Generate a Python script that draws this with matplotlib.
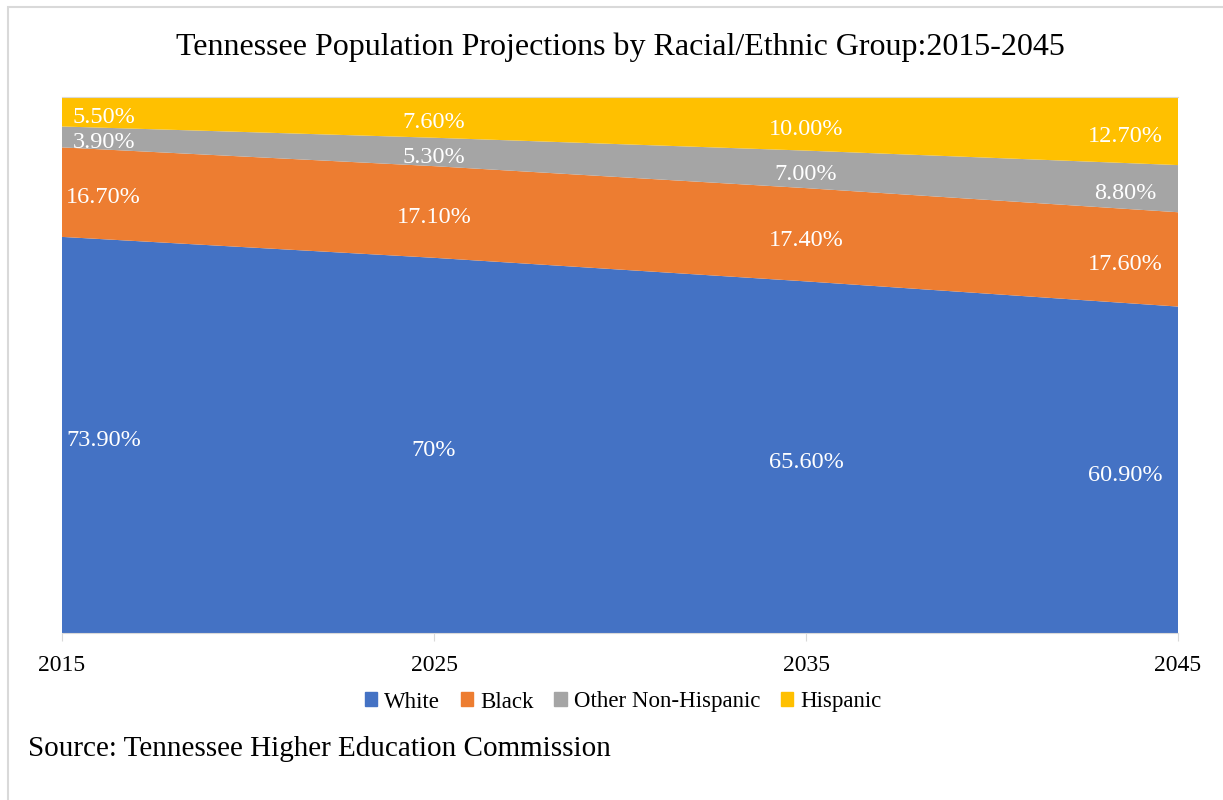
import matplotlib.pyplot as plt
from matplotlib.patches import Rectangle, Patch

plt.rcParams['font.family'] = ['Liberation Serif', 'DejaVu Serif']

years = [2015, 2025, 2035, 2045]
white = [73.9, 70.0, 65.6, 60.9]
black = [16.7, 17.1, 17.4, 17.6]
other = [3.9, 5.3, 7.0, 8.8]
hispanic = [5.5, 7.6, 10.0, 12.7]

white_lbl = ["73.90%", "70%", "65.60%", "60.90%"]
black_lbl = ["16.70%", "17.10%", "17.40%", "17.60%"]
other_lbl = ["3.90%", "5.30%", "7.00%", "8.80%"]
hisp_lbl = ["5.50%", "7.60%", "10.00%", "12.70%"]

names = ["White", "Black", "Other Non-Hispanic", "Hispanic"]
colors = ["#4472C4", "#ED7D31", "#A5A5A5", "#FFC000"]

fig = plt.figure(figsize=(12.23, 8), dpi=100)
ax = fig.add_axes([62/1223, 1-633/800, 1116/1223, 536/800])

series = [white, black, other, hispanic]
ax.stackplot(years, series, colors=colors, linewidth=0)

ax.set_xlim(2015, 2045)
ax.set_ylim(0, 100)
ax.set_yticks([])
ax.set_xticks(years)
ax.set_xticklabels([str(y) for y in years], fontsize=17)
ax.tick_params(axis='x', length=6, color='#D9D9D9', pad=10)
for s in ['left', 'right']:
    ax.spines[s].set_visible(False)
ax.spines['bottom'].set_color('#D9D9D9')
ax.spines['top'].set_color('#D9D9D9')

# data labels in the middle of each band
offsets = [30, 0, 0, -38]
labels = [white_lbl, black_lbl, other_lbl, hisp_lbl]
base = [0, 0, 0, 0]
for vals, lbls in zip(series, labels):
    for i, y in enumerate(years):
        mid = base[i] + vals[i] / 2
        ax.annotate(lbls[i], (y, mid), xytext=(offsets[i], -2),
                    textcoords='offset points', ha='center', va='center_baseline',
                    color='white', fontsize=17.5)
    base = [b + v for b, v in zip(base, vals)]

fig.text(620/1223, 1-47/800, "Tennessee Population Projections by Racial/Ethnic Group:2015-2045",
         ha='center', va='center', fontsize=23)

handles = [Patch(color=c, label=n) for c, n in zip(colors, names)]
fig.legend(handles=handles, loc='center', bbox_to_anchor=(623/1223, 1-702/800),
           ncol=4, frameon=False, fontsize=16.5, handlelength=0.55, handleheight=0.55,
           handletextpad=0.3, columnspacing=0.9)

fig.text(28/1223, 1-749/800, "Source: Tennessee Higher Education Commission",
         ha='left', va='center', fontsize=21)

fig.patches.append(Rectangle((8/1223, -0.1), 1.1, 1 - 7/800 + 0.1, transform=fig.transFigure,
                             fill=False, edgecolor='#D9D9D9', linewidth=1.5))

fig.savefig("out.png", dpi=100)
